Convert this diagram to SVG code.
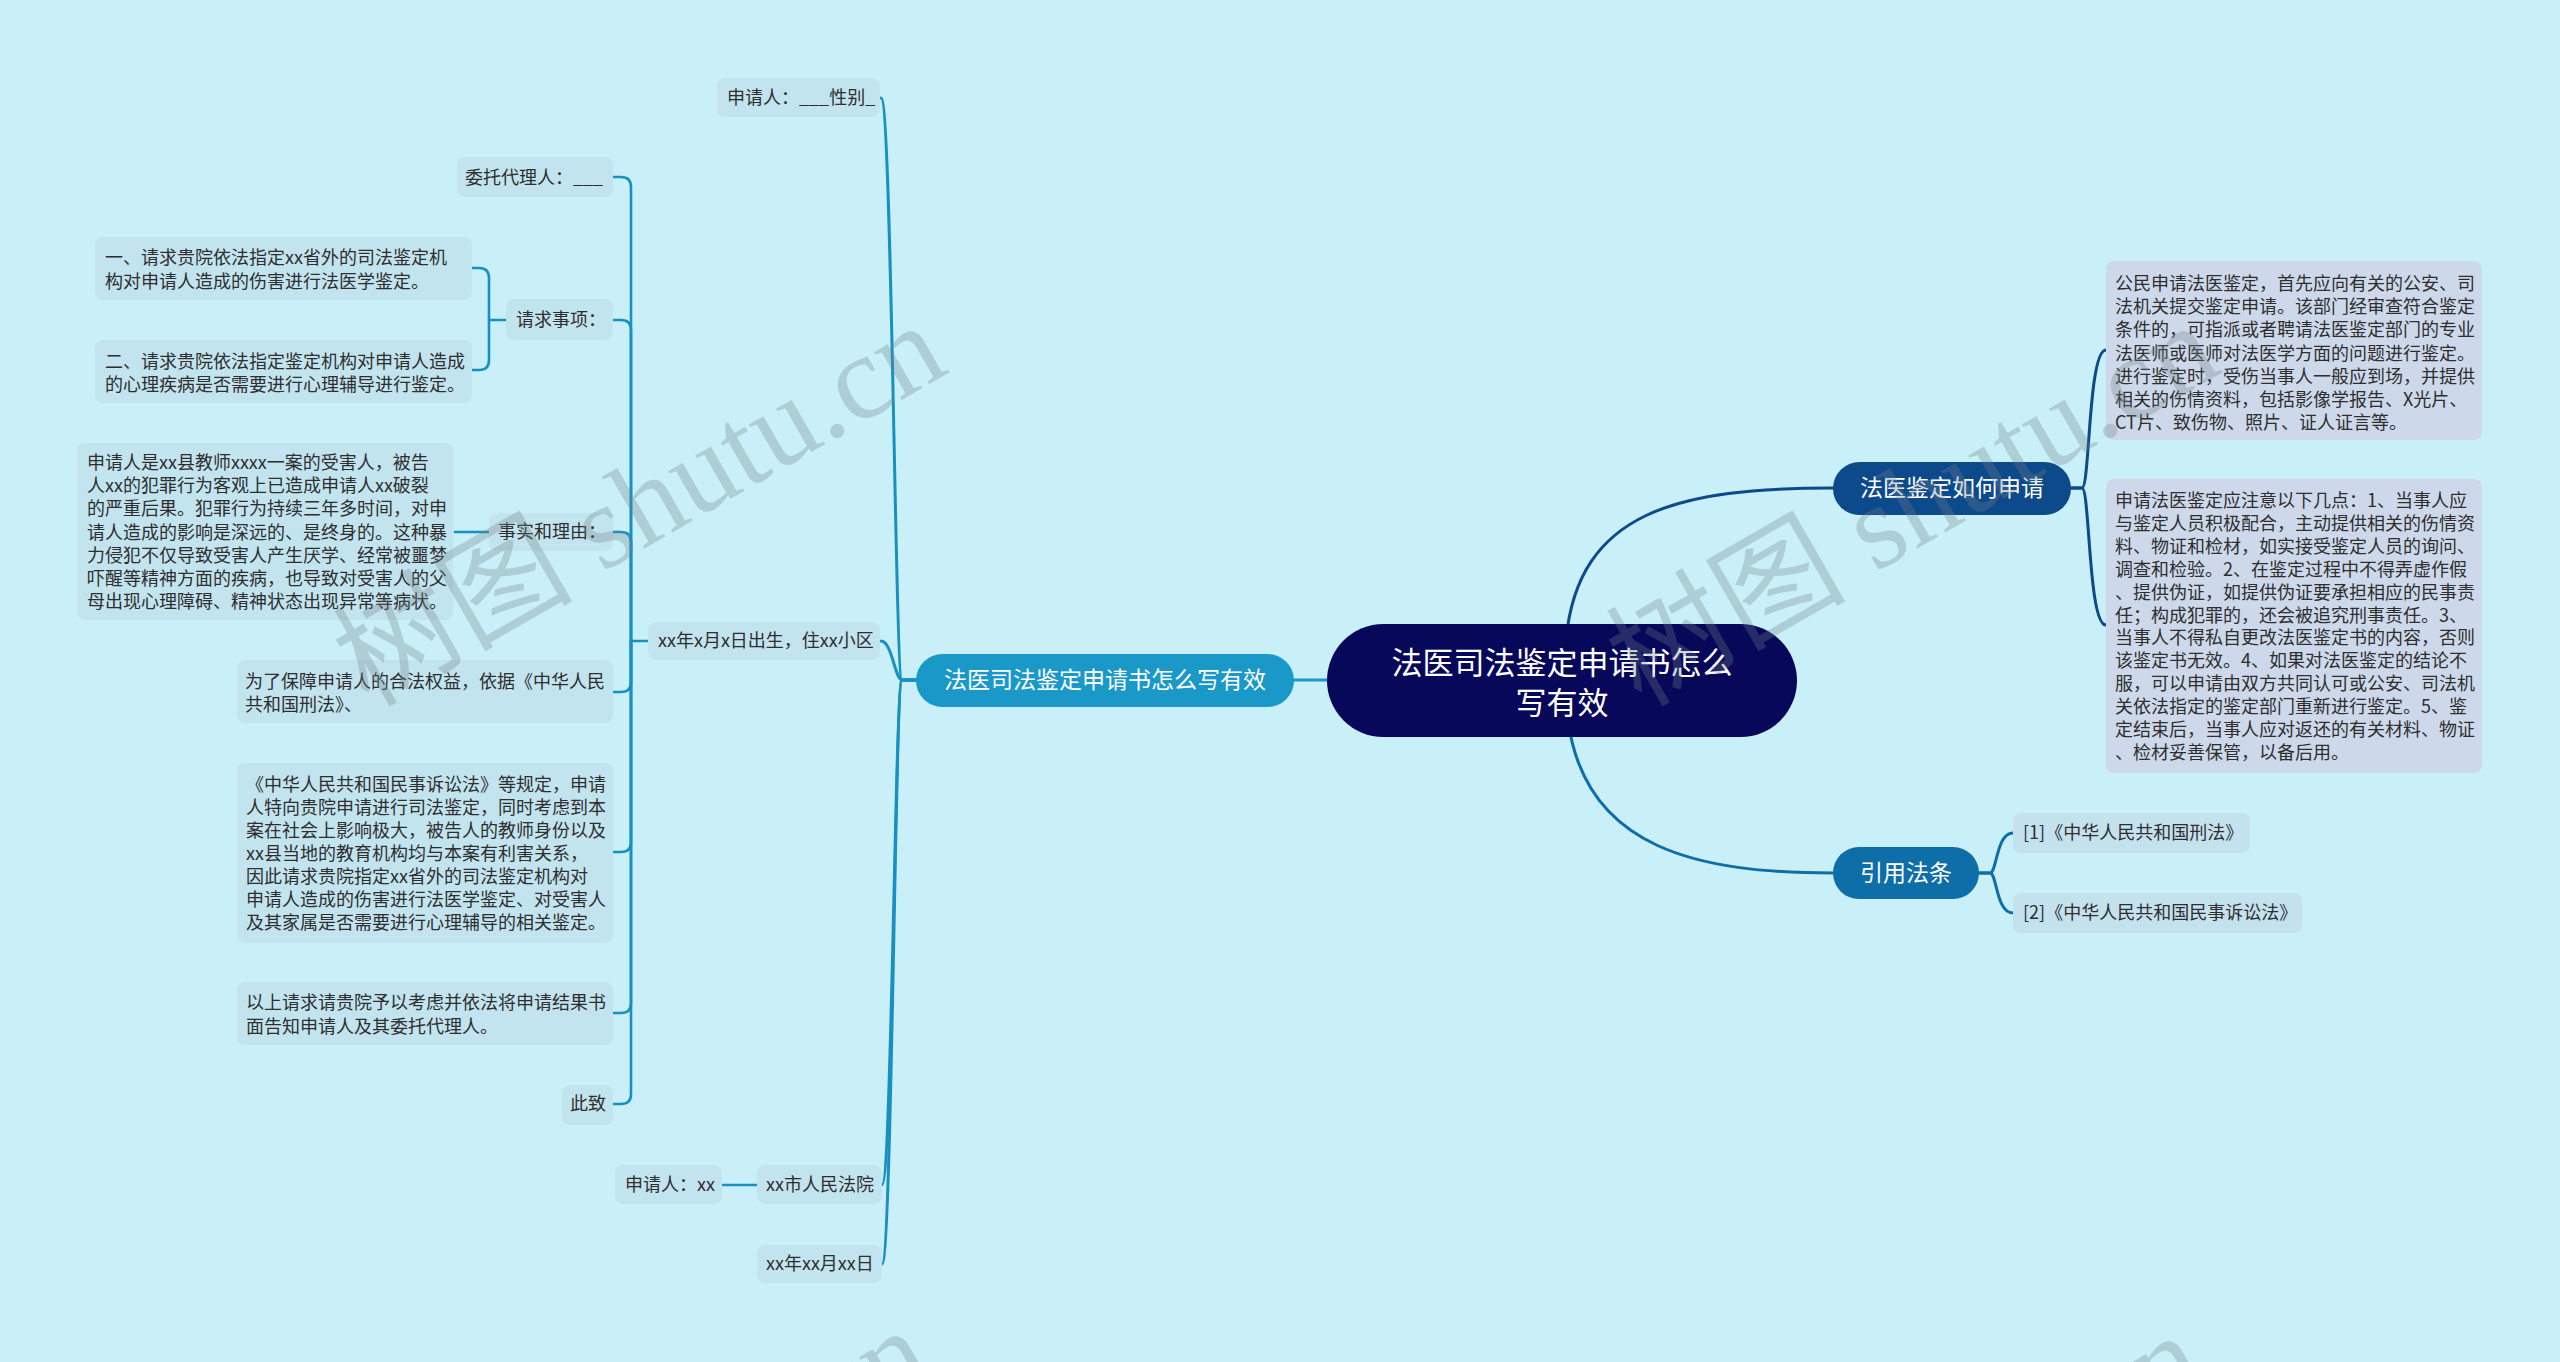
<svg xmlns="http://www.w3.org/2000/svg" width="2560" height="1362" viewBox="0 0 2560 1362">
<style>
.t{font-family:"Noto Sans CJK SC","Liberation Sans",sans-serif;font-size:18px;fill:#2e2e2e}
.nt{font-family:"Noto Sans CJK SC","Liberation Sans",sans-serif;font-size:23px;fill:#ffffff;text-anchor:middle}
.rt{font-family:"Noto Sans CJK SC","Liberation Sans",sans-serif;font-size:31px;fill:#ffffff;text-anchor:middle}
.leaf{fill:#c2e4ee}
.rleaf{fill:#cdd9ea}
.ref{fill:#c4e2ee}
.c{fill:none;stroke-linecap:round;stroke-linejoin:round}
.cl{stroke:#1890c2;stroke-width:3}
.cs{stroke:#1890c2;stroke-width:2.6}
.cd{stroke:#0d4a8c;stroke-width:3}
.cm{stroke:#0e6ea8;stroke-width:3}
.wm{font-family:"Liberation Serif","Noto Sans CJK SC",serif;font-size:120px;fill:#6f8288;fill-opacity:0.3}
</style>
<rect x="0" y="0" width="2560" height="1362" fill="#c9eff8"/>

<g id="connectors">
  <path class="c" stroke="#1a99c9" stroke-width="3" d="M1294,680 H1335"/>
  <path class="c cd" d="M1566,640 C1578,510 1680,488 1833,488"/>
  <path class="c cm" d="M1568,720 C1585,850 1700,873 1833,873"/>
  <path class="c cl" d="M916,680 H902 C895,680 892,98 881,98"/>
  <path class="c cl" d="M916,680 H902 C895,680 892,641 881,641"/>
  <path class="c cl" d="M916,680 H902 C895,680 892,1185 882,1185"/>
  <path class="c cl" d="M916,680 H902 C895,680 892,1264 882,1264"/>
  <path class="c cs" d="M648,641 H631 V187 Q631,177 621,177 H613"/>
  <path class="c cs" d="M631,641 V330 Q631,320 621,320 H613"/>
  <path class="c cs" d="M631,641 V542 Q631,532 621,532 H613"/>
  <path class="c cs" d="M631,641 V682 Q631,692 621,692 H613"/>
  <path class="c cs" d="M631,641 V842 Q631,852 621,852 H613"/>
  <path class="c cs" d="M631,641 V1003 Q631,1013 621,1013 H613"/>
  <path class="c cs" d="M631,641 V1094 Q631,1104 621,1104 H613"/>
  <path class="c cs" d="M506,320 H489 V278 Q489,268 479,268 H472"/>
  <path class="c cs" d="M489,320 V360 Q489,370 479,370 H472"/>
  <path class="c cs" d="M489,532 H455"/>
  <path class="c cs" d="M757,1185 H723"/>
  <path class="c cd" d="M2071,488 H2082 C2090,488 2088,350 2106,350"/>
  <path class="c cd" d="M2071,488 H2082 C2090,488 2088,625 2106,625"/>
  <path class="c cm" d="M1979,873 H1990 C1997,873 1996,833 2013,833"/>
  <path class="c cm" d="M1979,873 H1990 C1997,873 1996,913 2013,913"/>
</g>

<g id="root">
  <rect x="1327" y="624" width="470" height="113" rx="56.5" fill="#07085a"/>
  <text class="rt" x="1562" y="674">法医司法鉴定申请书怎么</text>
  <text class="rt" x="1562" y="714">写有效</text>
</g>

<g id="n-left-main">
  <rect x="916" y="654" width="378" height="53" rx="26.5" fill="#1a99c9"/>
  <text class="nt" x="1105" y="688">法医司法鉴定申请书怎么写有效</text>
</g>

<g id="n-how-apply">
  <rect x="1833" y="462" width="238" height="53" rx="26.5" fill="#0d4a8c"/>
  <text class="nt" x="1952" y="496">法医鉴定如何申请</text>
</g>

<g id="n-cite">
  <rect x="1833" y="847" width="146" height="52" rx="26" fill="#0e6ea8"/>
  <text class="nt" x="1906" y="881">引用法条</text>
</g>

<g id="n-apply-1">
  <rect class="rleaf" x="2106" y="261" width="376" height="179" rx="8"/>
  <text class="t" x="2115" y="290">公民申请法医鉴定，首先应向有关的公安、司</text>
  <text class="t" x="2115" y="313.2">法机关提交鉴定申请。该部门经审查符合鉴定</text>
  <text class="t" x="2115" y="336.4">条件的，可指派或者聘请法医鉴定部门的专业</text>
  <text class="t" x="2115" y="359.6">法医师或医师对法医学方面的问题进行鉴定。</text>
  <text class="t" x="2115" y="382.8">进行鉴定时，受伤当事人一般应到场，并提供</text>
  <text class="t" x="2115" y="406">相关的伤情资料，包括影像学报告、X光片、</text>
  <text class="t" x="2115" y="429.2">CT片、致伤物、照片、证人证言等。</text>
</g>

<g id="n-apply-2">
  <rect class="rleaf" x="2106" y="479" width="376" height="294" rx="8"/>
  <text class="t" x="2115" y="507">申请法医鉴定应注意以下几点：1、当事人应</text>
  <text class="t" x="2115" y="529.9">与鉴定人员积极配合，主动提供相关的伤情资</text>
  <text class="t" x="2115" y="552.8">料、物证和检材，如实接受鉴定人员的询问、</text>
  <text class="t" x="2115" y="575.7">调查和检验。2、在鉴定过程中不得弄虚作假</text>
  <text class="t" x="2115" y="598.6">、提供伪证，如提供伪证要承担相应的民事责</text>
  <text class="t" x="2115" y="621.5">任；构成犯罪的，还会被追究刑事责任。3、</text>
  <text class="t" x="2115" y="644.4">当事人不得私自更改法医鉴定书的内容，否则</text>
  <text class="t" x="2115" y="667.3">该鉴定书无效。4、如果对法医鉴定的结论不</text>
  <text class="t" x="2115" y="690.2">服，可以申请由双方共同认可或公安、司法机</text>
  <text class="t" x="2115" y="713.1">关依法指定的鉴定部门重新进行鉴定。5、鉴</text>
  <text class="t" x="2115" y="736">定结束后，当事人应对返还的有关材料、物证</text>
  <text class="t" x="2115" y="758.9">、检材妥善保管，以备后用。</text>
</g>

<g id="n-ref-1">
  <rect class="ref" x="2013" y="813" width="237" height="40" rx="8"/>
  <text class="t" x="2023" y="839">[1]《中华人民共和国刑法》</text>
</g>

<g id="n-ref-2">
  <rect class="ref" x="2013" y="893" width="289" height="40" rx="8"/>
  <text class="t" x="2023" y="919">[2]《中华人民共和国民事诉讼法》</text>
</g>

<g id="n-applicant">
  <rect class="leaf" x="717" y="78" width="163" height="39" rx="8"/>
  <text class="t" x="727" y="104">申请人：___性别_</text>
</g>

<g id="n-birth">
  <rect class="leaf" x="648" y="622" width="232" height="38" rx="8"/>
  <text class="t" x="658" y="647">xx年x月x日出生，住xx小区</text>
</g>

<g id="n-court">
  <rect class="leaf" x="757" y="1165" width="125" height="39" rx="8"/>
  <text class="t" x="766" y="1191">xx市人民法院</text>
</g>

<g id="n-applicant-xx">
  <rect class="leaf" x="615" y="1165" width="107" height="39" rx="8"/>
  <text class="t" x="625" y="1191">申请人：xx</text>
</g>

<g id="n-date">
  <rect class="leaf" x="757" y="1245" width="125" height="38" rx="8"/>
  <text class="t" x="766" y="1270">xx年xx月xx日</text>
</g>

<g id="n-agent">
  <rect class="leaf" x="457" y="157" width="156" height="40" rx="8"/>
  <text class="t" x="465" y="184">委托代理人：___</text>
</g>

<g id="n-request">
  <rect class="leaf" x="506" y="299" width="107" height="41" rx="8"/>
  <text class="t" x="516" y="326">请求事项：</text>
</g>

<g id="n-request-1">
  <rect class="leaf" x="95" y="237" width="377" height="63" rx="8"/>
  <text class="t" x="105" y="264">一、请求贵院依法指定xx省外的司法鉴定机</text>
  <text class="t" x="105" y="288">构对申请人造成的伤害进行法医学鉴定。</text>
</g>

<g id="n-request-2">
  <rect class="leaf" x="95" y="340" width="377" height="63" rx="8"/>
  <text class="t" x="105" y="367.5">二、请求贵院依法指定鉴定机构对申请人造成</text>
  <text class="t" x="105" y="390.5">的心理疾病是否需要进行心理辅导进行鉴定。</text>
</g>

<g id="n-facts">
  <rect class="leaf" x="489" y="513" width="124" height="38" rx="8"/>
  <text class="t" x="498" y="538">事实和理由：</text>
</g>

<g id="n-facts-detail">
  <rect class="leaf" x="77" y="443" width="376" height="177" rx="8"/>
  <text class="t" x="87" y="469">申请人是xx县教师xxxx一案的受害人，被告</text>
  <text class="t" x="87" y="492.2">人xx的犯罪行为客观上已造成申请人xx破裂</text>
  <text class="t" x="87" y="515.4">的严重后果。犯罪行为持续三年多时间，对申</text>
  <text class="t" x="87" y="538.6">请人造成的影响是深远的、是终身的。这种暴</text>
  <text class="t" x="87" y="561.8">力侵犯不仅导致受害人产生厌学、经常被噩梦</text>
  <text class="t" x="87" y="585">吓醒等精神方面的疾病，也导致对受害人的父</text>
  <text class="t" x="87" y="608.2">母出现心理障碍、精神状态出现异常等病状。</text>
</g>

<g id="n-law-1">
  <rect class="leaf" x="237" y="660" width="376" height="63" rx="8"/>
  <text class="t" x="245" y="688">为了保障申请人的合法权益，依据《中华人民</text>
  <text class="t" x="245" y="711">共和国刑法》、</text>
</g>

<g id="n-law-2">
  <rect class="leaf" x="237" y="763" width="376" height="180" rx="8"/>
  <text class="t" x="246" y="791">《中华人民共和国民事诉讼法》等规定，申请</text>
  <text class="t" x="246" y="814">人特向贵院申请进行司法鉴定，同时考虑到本</text>
  <text class="t" x="246" y="837">案在社会上影响极大，被告人的教师身份以及</text>
  <text class="t" x="246" y="860">xx县当地的教育机构均与本案有利害关系，</text>
  <text class="t" x="246" y="883">因此请求贵院指定xx省外的司法鉴定机构对</text>
  <text class="t" x="246" y="906">申请人造成的伤害进行法医学鉴定、对受害人</text>
  <text class="t" x="246" y="929">及其家属是否需要进行心理辅导的相关鉴定。</text>
</g>

<g id="n-conclude">
  <rect class="leaf" x="237" y="982" width="376" height="63" rx="8"/>
  <text class="t" x="246" y="1009">以上请求请贵院予以考虑并依法将申请结果书</text>
  <text class="t" x="246" y="1033">面告知申请人及其委托代理人。</text>
</g>

<g id="n-zhizhi">
  <rect class="leaf" x="562" y="1085" width="51" height="40" rx="8"/>
  <text class="t" x="570" y="1110">此致</text>
</g>

<g id="watermarks">
  <text class="wm" transform="translate(368,708) rotate(-30)">树图 shutu.cn</text>
  <text class="wm" transform="translate(1641,708) rotate(-30)">树图 shutu.cn</text>
  <text class="wm" transform="translate(353,1713) rotate(-30)">树图 shutu.cn</text>
  <text class="wm" transform="translate(1626,1718) rotate(-30)">树图 shutu.cn</text>
</g>
</svg>
